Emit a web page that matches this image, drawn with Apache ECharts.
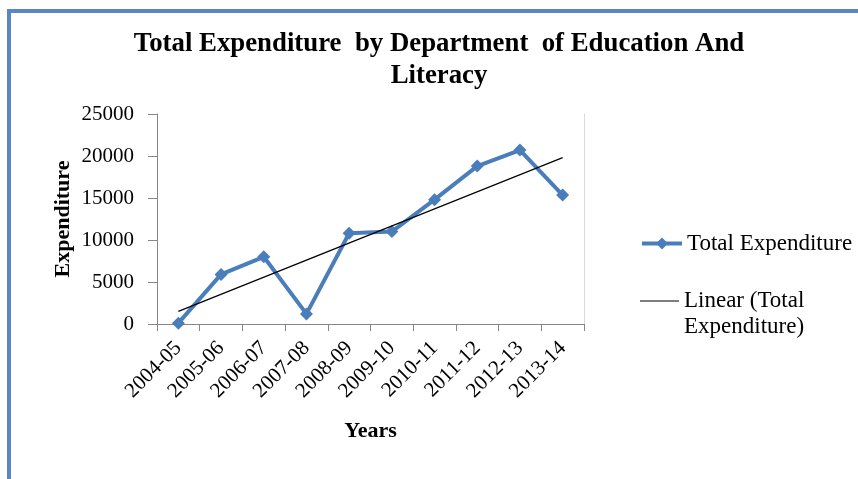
<!DOCTYPE html>
<html>
<head>
<meta charset="utf-8">
<script src="https://cdn.jsdelivr.net/npm/echarts@6/dist/echarts.min.js"></script>
<style>
    html, body { margin: 0; padding: 0; background: #fff; }
    #frame {
        position: absolute; left: 0; top: 0; width: 858px; height: 479px;
        overflow: hidden;
    }
    #border {
        position: absolute; left: 7px; top: 9px; width: 900px; height: 500px;
        border-left: 4px solid #5b86c4; border-top: 4px solid #5b86c4;
    }
    #main { position: absolute; left: 0; top: 0; width: 858px; height: 479px; }
</style>
</head>
<body>
<div id="frame">
    <div id="border"></div>
    <div id="main"></div>
</div>
<script>
// 数据
var years = ['2004-05', '2005-06', '2006-07', '2007-08', '2008-09',
    '2009-10', '2010-11', '2011-12', '2012-13', '2013-14'];
var totalExpenditure = [100, 5900, 8000, 1200, 10800, 11000, 14800, 18800, 20700, 15350];
// 趋势线两端
var trendLine = [1500, null, null, null, null, null, null, null, null, 19800];
var yTicks = [0, 5000, 10000, 15000, 20000, 25000];

var serif = 'Liberation Serif';
var chart = echarts.init(document.getElementById('main'));

var option = {
    backgroundColor: 'transparent',
    animation: false,
    title: {
        text: 'Total Expenditure  by Department  of Education And\nLiteracy',
        left: 434,
        textAlign: 'center',
        top: 23,
        textStyle: {
            fontFamily: serif,
            fontWeight: 'bold',
            fontSize: 26.8,
            lineHeight: 32,
            color: '#000'
        }
    },
    legend: [{
        data: ['Total Expenditure'],
        left: 640,
        top: 232,
        padding: 0,
        itemWidth: 40,
        itemHeight: 15,
        lineStyle: { width: 4 },
        textStyle: { fontFamily: serif, fontSize: 23, color: '#000' }
    }, {
        data: [{ name: 'Linear (Total Expenditure)', icon: 'rect' }],
        left: 640,
        top: 262,
        padding: 0,
        itemWidth: 39,
        itemHeight: 1.2,
        formatter: function () {
            return ' \nLinear (Total\nExpenditure)';
        },
        textStyle: {
            fontFamily: serif, fontSize: 23, color: '#000', lineHeight: 26
        }
    }],
    grid: {
        left: 157,
        top: 114,
        right: 274,
        bottom: 155
    },
    xAxis: {
        type: 'category',
        data: years,
        boundaryGap: true,
        name: 'Years',
        nameLocation: 'middle',
        nameGap: 96,
        nameTextStyle: { fontFamily: serif, fontWeight: 'bold', fontSize: 22, color: '#000' },
        axisLine: { lineStyle: { color: '#868686', width: 1 } },
        axisTick: { show: true, length: 7, lineStyle: { color: '#868686' } },
        axisLabel: {
            rotate: 45,
            margin: 21,
            fontFamily: serif,
            fontSize: 21,
            color: '#000',
            interval: 0
        },
        splitLine: { show: false }
    },
    yAxis: [{
        type: 'value',
        min: 0,
        max: 25000,
        interval: 5000,
        name: 'Expenditure',
        nameLocation: 'middle',
        nameRotate: 90,
        nameGap: 83,
        nameTextStyle: { fontFamily: serif, fontWeight: 'bold', fontSize: 22, color: '#000' },
        axisLine: { show: true, lineStyle: { color: '#868686', width: 1 } },
        axisTick: { show: true, length: 9, lineStyle: { color: '#868686' } },
        axisLabel: {
            margin: 23,
            fontFamily: serif,
            fontSize: 21,
            color: '#000',
            formatter: function (v) {
                return yTicks.indexOf(v) >= 0 ? String(v) : '';
            }
        },
        splitLine: { show: false }
    }, {
        type: 'value',
        position: 'right',
        min: 0,
        max: 25000,
        interval: 5000,
        axisLine: { show: true, lineStyle: { color: '#d9d9d9', width: 1 } },
        axisTick: { show: false },
        axisLabel: { show: false },
        splitLine: { show: false }
    }],
    series: [{
        name: 'Total Expenditure',
        type: 'line',
        data: totalExpenditure,
        symbol: 'diamond',
        symbolSize: 13,
        color: '#4a7ebb',
        lineStyle: { width: 4, color: '#4a7ebb' },
        itemStyle: { color: '#4a7ebb' },
        z: 2
    }, {
        name: 'Linear (Total Expenditure)',
        type: 'line',
        data: trendLine,
        connectNulls: true,
        symbol: 'none',
        color: '#000',
        lineStyle: { width: 1.2, color: '#000' },
        z: 3
    }]
};
chart.setOption(option);

window.onresize = function () {
    chart.resize();
};
</script>
</body>
</html>
